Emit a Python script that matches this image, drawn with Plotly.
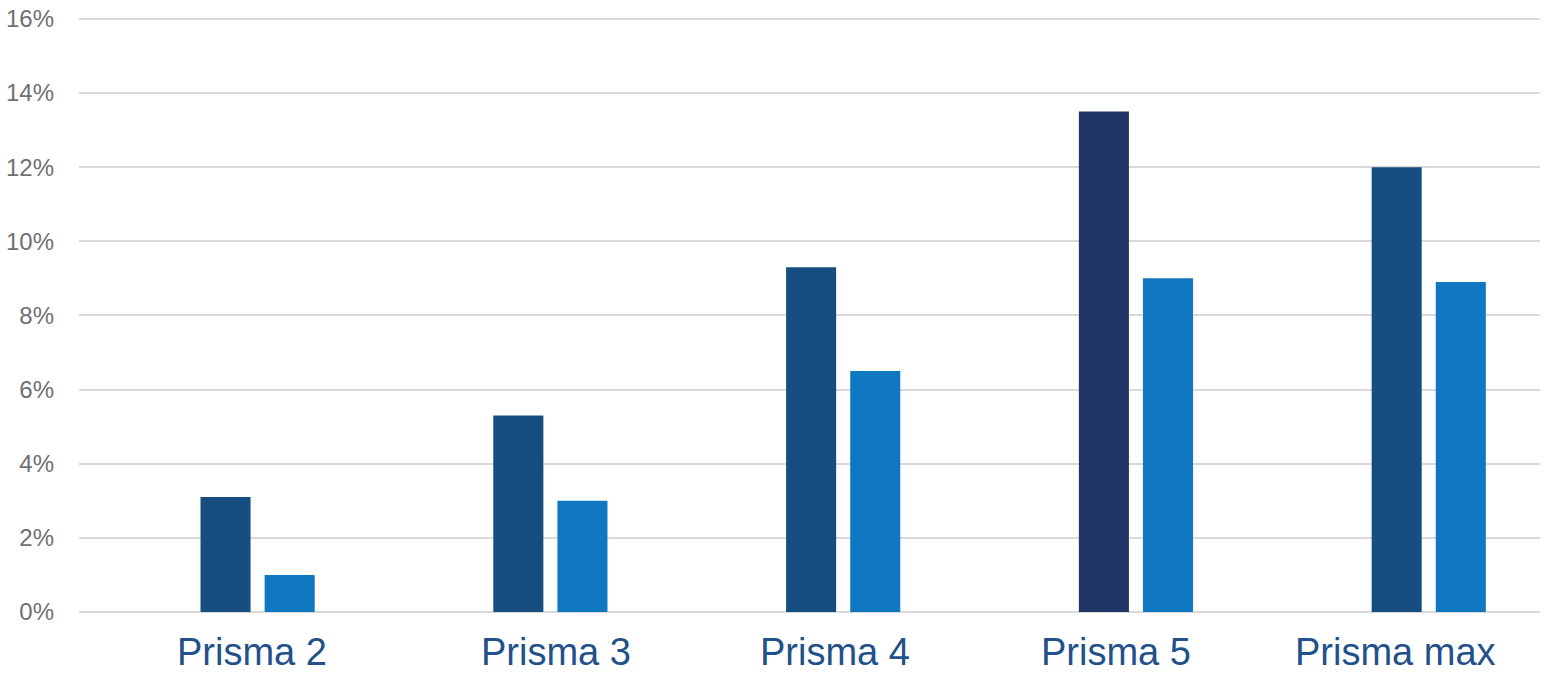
import plotly.graph_objects as go

categories = ["Prisma 2", "Prisma 3", "Prisma 4", "Prisma 5", "Prisma max"]
series_a = [3.1, 5.3, 9.3, 13.5, 12.0]
series_b = [1.0, 3.0, 6.5, 9.0, 8.9]
colors_a = ["#164F7F", "#164F7F", "#164F7F", "#1F3566", "#164F7F"]
color_b = "#0F78C0"
y_ticks = [0, 2, 4, 6, 8, 10, 12, 14, 16]
y_tick_labels = [f"{v}%" for v in y_ticks]

# horizontal nudges of the category labels (pixels), as in the original
label_shift = [-6, 6, -8, -20, -33]

bw = 0.171
gap = 0.048

fig = go.Figure()
fig.add_trace(go.Bar(
    x=categories, y=series_a, width=bw, offset=-bw - gap / 2,
    marker=dict(color=colors_a, line=dict(width=0)),
    showlegend=False,
))
fig.add_trace(go.Bar(
    x=categories, y=series_b, width=bw, offset=gap / 2,
    marker=dict(color=color_b, line=dict(width=0)),
    showlegend=False,
))

for cat, dx in zip(categories, label_shift):
    fig.add_annotation(
        x=cat, xref="x", y=0, yref="paper", yanchor="middle",
        yshift=-40, xshift=dx, text=cat, showarrow=False, borderpad=0,
        font=dict(size=38, color="#22508A"),
    )

fig.update_layout(
    width=1545, height=674,
    margin=dict(l=79, r=5, t=15, b=62),
    paper_bgcolor="white", plot_bgcolor="white",
    font=dict(family="Liberation Sans, Arial, sans-serif"),
    barmode="overlay",
    xaxis=dict(
        range=[-0.61, 4.38], showgrid=False, zeroline=False, showline=False,
        showticklabels=False, ticks="",
    ),
    yaxis=dict(
        range=[0, 16.05], tickvals=y_ticks, ticktext=y_tick_labels,
        showgrid=True, gridcolor="#D9D9D9", gridwidth=2,
        zeroline=True, zerolinecolor="#D9D9D9", zerolinewidth=2,
        showline=False, ticks="",
        tickfont=dict(size=24, color="#707070"), ticklabelstandoff=24,
    ),
)

fig.write_html("out.html")
